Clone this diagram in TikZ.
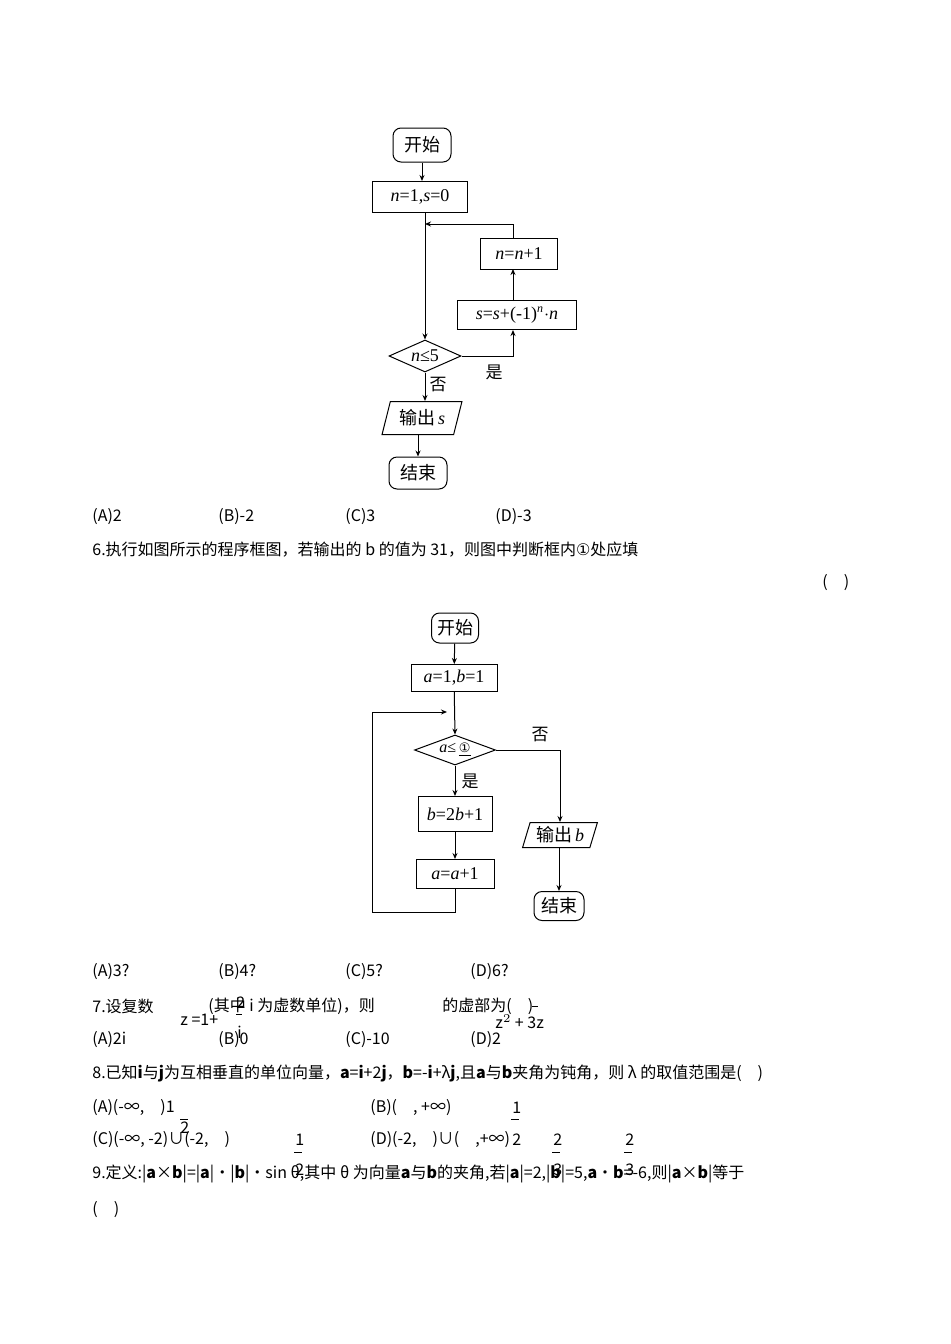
\documentclass[tikz,border=0pt]{standalone}
\usepackage{fontspec}
\setmainfont{Liberation Serif}
\newfontfamily\cjk{Noto Sans CJK SC}
\newfontfamily\dvs{DejaVu Sans}
\newfontfamily\tmsit{Liberation Serif}[UprightFont=*-Italic]
\usetikzlibrary{shapes.geometric,arrows.meta}
\begin{document}
\begin{tikzpicture}[x=0.5pt,y=-0.5pt,
  fl/.style={draw,line width=0.5pt,inner sep=0pt,font=\fontsize{9}{10}\selectfont},
  term/.style={fl,rounded corners=4pt},
  proc/.style={fl},
  dec/.style={fl,diamond,aspect=2.3},
  io/.style={fl,trapezium,trapezium left angle=70,trapezium right angle=-70,trapezium stretches=true},
  ar/.style={-{Stealth[length=3pt,width=2.5pt]},line width=0.5pt},
  ln/.style={line width=0.5pt},
  tx/.style={anchor=west,inner sep=0pt,font=\cjk\fontsize{8}{9}\selectfont},
  lab/.style={inner sep=0pt,font=\cjk\fontsize{8.5}{9}\selectfont}]
\useasboundingbox (0,0) rectangle (950,1344);
% flowchart 1
\node[term,minimum width=29pt,minimum height=17pt] (s1) at (422,145) {\cjk 开始};
\node[proc,minimum width=47.5pt,minimum height=15.5pt] (i1) at (420,197) {\textit{n}=1,\textit{s}=0};
\node[proc,minimum width=38.5pt,minimum height=15.5pt] (u1) at (519,254) {\textit{n}=\textit{n}+1};
\node[proc,minimum width=59.5pt,minimum height=14.5pt] (p1) at (517,315) {\textit{s}=\textit{s}+(-1)\textsuperscript{\textit{n}}$\cdot$\textit{n}};
\node[dec,minimum width=36pt,minimum height=16pt] (d1) at (425,356) {\textit{n}≤5};
\node[io,minimum width=40pt,minimum height=16.5pt] (o1) at (422,418) {\cjk 输出\,{\tmsit s}};
\node[term,minimum width=29pt,minimum height=16pt] (e1) at (418,473) {\cjk 结束};
\coordinate (j1) at (425,224);
\draw[ar] (s1) -- (s1|-i1.north);
\draw[ln] (425,212) -- (j1);
\draw[ar] (j1) -- (d1.north);
\draw[ar] (d1.east) -| (513,330);
\draw[ar] (513,301) -- (513,269);
\draw[ar] (513,238) |- (j1);
\draw[ar] (d1.south) -- (425,401);
\draw[ar] (o1.south-|e1.north) -- (e1.north);
\node[lab] (y1) at (494,372) {是};
\node[lab] (n1) at (438,385) {否};
% answers 5
\node[tx] (a5) at (92,517) {(A)2};
\node[tx] (b5) at (218,517) {(B)-2};
\node[tx] (c5) at (345,517) {(C)3};
\node[tx] (d5) at (495,517) {(D)-3};
\node[tx] (q6) at (92,550) {6.执行如图所示的程序框图，若输出的 b 的值为 31，则图中判断框内{\dvs ①}处应填};
\node[tx] (p6) at (822,583) {(\quad)};
% flowchart 2
\node[term,minimum width=23.5pt,minimum height=15pt] (s2) at (455,628) {\cjk 开始};
\node[proc,minimum width=43pt,minimum height=13.5pt] (i2) at (454,678) {\textit{a}=1,\textit{b}=1};
\node[dec,minimum width=40.5pt,minimum height=15pt,font=\fontsize{8}{9}\selectfont] (d2) at (455,750) {\textit{a}≤\,\underline{\dvs\fontsize{6.5}{7}\selectfont ①}};
\node[proc,minimum width=37pt,minimum height=17.5pt] (b2) at (455,814) {\textit{b}=2\textit{b}+1};
\node[proc,minimum width=39pt,minimum height=14.5pt] (u2) at (455,874) {\textit{a}=\textit{a}+1};
\node[io,minimum width=37.5pt,minimum height=12.5pt] (o2) at (560,835) {\cjk 输出\,{\tmsit b}};
\node[term,minimum width=25pt,minimum height=14.5pt] (e2) at (559,906) {\cjk 结束};
\coordinate (j2) at (455,712);
\draw[ar] (s2) -- (i2);
\draw[ar] (i2) -- (d2.north);
\draw[ar] (d2.south) -- (b2.north);
\draw[ar] (b2) -- (u2);
\draw[ar] (d2.east) -| (o2.north);
\draw[ar] (o2.south-|e2.north) -- (e2.north);
\draw[ar] (u2.south) -- (455,912) -- (372,912) -- (372,712) -- (447,712);
\node[lab] (n2) at (540,735) {否};
\node[lab] (y2) at (470,781) {是};
% answers 6
\node[tx] at (92,972) {(A)3?};
\node[tx] at (218,972) {(B)4?};
\node[tx] at (345,972) {(C)5?};
\node[tx] at (470,972) {(D)6?};
% 7
\node[tx] at (92,1006) {7.设复数};
\node[tx] at (208,1006) {(其中 i 为虚数单位)，则};
\node[tx] at (442,1006) {的虚部为(\quad)};
\node[tx] at (180,1020) {z =1+};
\node[tx] at (236,1003) {2};
\draw[ln] (236,1014) -- (242,1014);
\node[tx] at (237,1032) {i};
\node[tx] at (495,1022) {z$^{2}$ + 3z};
\draw[ln] (532,1006) -- (538,1006);
\node[tx] at (92,1040) {(A)2i};
\node[tx] at (218,1040) {(B)0};
\node[tx] at (345,1040) {(C)-10};
\node[tx] at (470,1040) {(D)2};
% 8
\node[tx] at (92,1073) {8.已知\textbf{i}与\textbf{j}为互相垂直的单位向量，\textbf{a}=\textbf{i}+2\textbf{j}，\textbf{b}=-\textbf{i}+λ\textbf{j},且\textbf{a}与\textbf{b}夹角为钝角，则 λ 的取值范围是(\quad)};
\node[tx] at (92,1108) {(A)(-∞,\quad)1};
\draw[ln] (180,1119) -- (188,1119);
\node[tx] at (180,1128) {2};
\node[tx] at (370,1108) {(B)(\quad ,\ +∞)};
\node[tx] at (512,1108) {1};
\draw[ln] (511,1119) -- (519,1119);
\node[tx] at (512,1140) {2};
\node[tx] at (92,1140) {(C)(-∞, -2)∪(-2,\quad)};
\node[tx] at (295,1140) {1};
\draw[ln] (294,1152) -- (302,1152);
\node[tx] at (295,1170) {2};
\node[tx] at (370,1140) {(D)(-2,\quad)∪(\quad ,+∞)};
\node[tx] at (553,1140) {2};
\draw[ln] (552,1152) -- (560,1152);
\node[tx] at (553,1170) {3};
\node[tx] at (625,1140) {2};
\draw[ln] (624,1152) -- (632,1152);
\node[tx] at (625,1170) {3};
% 9
\node[tx] at (92,1174) {9.定义:|\textbf{a}×\textbf{b}|=|\textbf{a}|·|\textbf{b}|·sin θ,其中 θ 为向量\textbf{a}与\textbf{b}的夹角,若|\textbf{a}|=2,|\textbf{b}|=5,\textbf{a}·\textbf{b}=-6,则|\textbf{a}×\textbf{b}|等于};
\node[tx] at (92,1210) {(\quad)};
\end{tikzpicture}
\end{document}
